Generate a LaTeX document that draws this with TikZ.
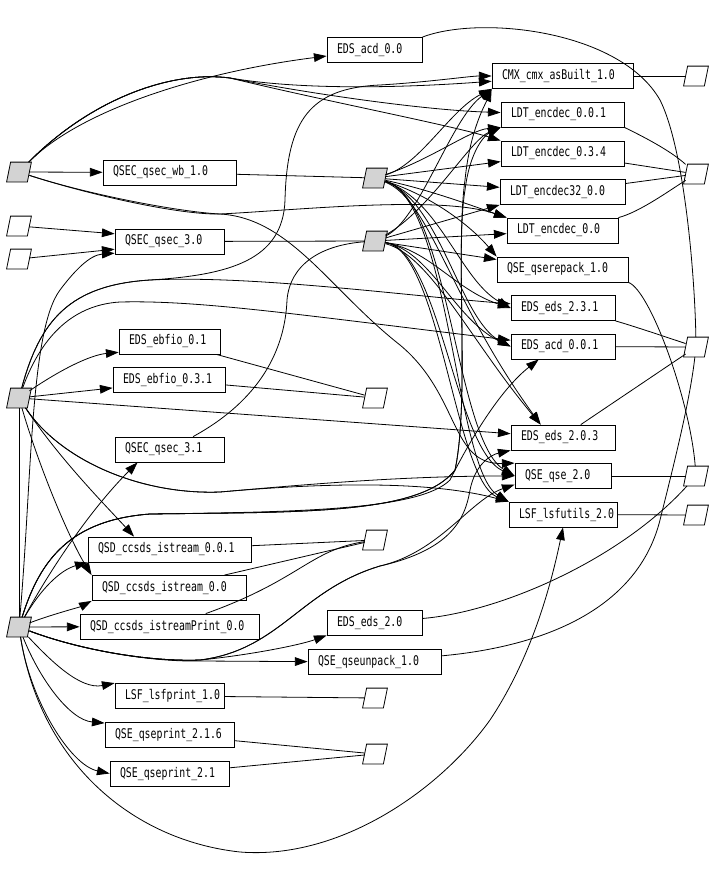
\documentclass[tikz,border=0pt]{standalone}
\usepackage{fontspec}
\usepackage{tikz}
\usetikzlibrary{arrows.meta}
\newfontfamily\pkgfont[FakeStretch=0.74]{DejaVu Sans Mono}
\definecolor{srcgray}{RGB}{211,211,211}
\tikzset{
  verbox/.style={draw, rectangle, minimum height=18.75pt, inner ysep=0pt, inner xsep=7.5pt, align=left,
    minimum width=#1, text width=#1-15pt, font=\pkgfont\fontsize{10}{11}\selectfont},
  pkgnode/.style={rectangle, minimum width=15pt, minimum height=14.25pt, inner sep=0pt,
    append after command={\pgfextra{\draw[fill=#1] ([xshift=-1.5pt]\tikzlastnode.south west) -- ([xshift=-1.5pt]\tikzlastnode.south east) -- ([xshift=1.5pt]\tikzlastnode.north east) -- ([xshift=1.5pt]\tikzlastnode.north west) -- cycle;}}},
  pkgnode/.default=white,
  srcnode/.style={pkgnode=srcgray},
  needs/.style={-{Triangle[length=9.5pt,width=6.5pt]}},
}

\begin{document}
\begin{tikzpicture}[x=0.75pt, y=-0.75pt, line width=0.6pt]
	\useasboundingbox (0,0) rectangle (714,889);
	% sources on the left and in the middle
	\node[srcnode] (gA) at (19,172) {};
	\node[pkgnode] (wA) at (19,226) {};
	\node[pkgnode] (wB) at (19,259) {};
	\node[srcnode] (gB) at (19,398) {};
	\node[srcnode] (gC) at (19,627) {};
	\node[srcnode] (gM1) at (375,178) {};
	\node[srcnode] (gM2) at (375,241) {};
	\node[pkgnode] (wM1) at (375,398) {};
	\node[pkgnode] (wM2) at (375,540) {};
	\node[pkgnode] (wM3) at (375,698) {};
	\node[pkgnode] (wM4) at (375,754) {};
	\node[pkgnode] (wR1) at (696,76) {};
	\node[pkgnode] (wR2) at (696,174) {};
	\node[pkgnode] (wR3) at (696,347) {};
	\node[pkgnode] (wR4) at (696,476) {};
	\node[pkgnode] (wR5) at (696,515) {};
	% versions
	\node[verbox=71.25pt] (acdA) at (374.5,50) {EDS\_acd\_0.0};
	\node[verbox=105.75pt] (cmx) at (562.5,76) {CMX\_cmx\_asBuilt\_1.0};
	\node[verbox=92.25pt] (enc001) at (562.5,114.5) {LDT\_encdec\_0.0.1};
	\node[verbox=92.25pt] (enc034) at (562.5,153.5) {LDT\_encdec\_0.3.4};
	\node[verbox=93.75pt] (enc32) at (562.5,192) {LDT\_encdec32\_0.0};
	\node[verbox=83.25pt] (enc00) at (562.5,230.5) {LDT\_encdec\_0.0};
	\node[verbox=98.25pt] (repack) at (562.5,269.5) {QSE\_qserepack\_1.0};
	\node[verbox=78pt] (eds231) at (563,308) {EDS\_eds\_2.3.1};
	\node[verbox=78pt] (acd001) at (563,346.5) {EDS\_acd\_0.0.1};
	\node[verbox=78pt] (eds203) at (563,437.5) {EDS\_eds\_2.0.3};
	\node[verbox=72pt] (qse20) at (563,476) {QSE\_qse\_2.0};
	\node[verbox=81pt] (lsfu20) at (563,514.5) {LSF\_lsfutils\_2.0};
	\node[verbox=99.75pt] (wb10) at (169.5,172.5) {QSEC\_qsec\_wb\_1.0};
	\node[verbox=81.75pt] (qsec30) at (169.5,241.5) {QSEC\_qsec\_3.0};
	\node[verbox=75.75pt] (ebf01) at (169.5,341.5) {EDS\_ebfio\_0.1};
	\node[verbox=84pt] (ebf031) at (169,380) {EDS\_ebfio\_0.3.1};
	\node[verbox=81.75pt] (qsec31) at (169.5,449.5) {QSEC\_qsec\_3.1};
	\node[verbox=122.25pt] (ist001) at (169.5,549.5) {QSD\_ccsds\_istream\_0.0.1};
	\node[verbox=115.5pt] (ist00) at (169,588) {QSD\_ccsds\_istream\_0.0};
	\node[verbox=134.25pt] (istp00) at (169.5,626.5) {QSD\_ccsds\_istreamPrint\_0.0};
	\node[verbox=71.25pt] (eds20) at (374.5,622.5) {EDS\_eds\_2.0};
	\node[verbox=99.75pt] (unpack) at (374.5,662) {QSE\_qseunpack\_1.0};
	\node[verbox=81.75pt] (lsfp10) at (169.5,696) {LSF\_lsfprint\_1.0};
	\node[verbox=96.75pt] (qsep216) at (169.5,734.5) {QSE\_qseprint\_2.1.6};
	\node[verbox=89.25pt] (qsep21) at (169.5,773.5) {QSE\_qseprint\_2.1};

	% versions to their packages
	\draw (wb10) -- (gM1);
	\draw (qsec30) -- (gM2);
	\draw (qsec31) .. controls (260,400) and (285,350) .. (287,300) .. controls (290,265) and (320,245) .. (gM2);
	\draw (ebf01) -- (wM1);
	\draw (ebf031) -- (wM1);
	\draw (ist001) -- (wM2);
	\draw (ist00) -- (wM2);
	\draw (istp00) .. controls (300,580) and (310,550) .. (wM2);
	\draw (lsfp10) -- (wM3);
	\draw (qsep216) -- (wM4);
	\draw (qsep21) -- (wM4);
	\draw (cmx) -- (wR1);
	\draw (enc001.south east) .. controls (640,135) and (670,150) .. (wR2);
	\draw (enc034) -- (wR2);
	\draw (enc32) -- (wR2);
	\draw (enc00.north east) .. controls (640,212) and (670,190) .. (wR2);
	\draw (repack.south east) .. controls (650,290) and (690,400) .. (wR4);
	\draw (eds231.south east) .. controls (630,325) and (660,335) .. (wR3);
	\draw (acd001) -- (wR3);
	\draw (eds203.36) -- (wR3);
	\draw (qse20) -- (wR4);
	\draw (lsfu20) -- (wR5);
	\draw (acdA.north east) .. controls (480,15) and (620,30) .. (660,100) .. controls (685,150) and (695,280) .. (wR3);
	\draw (eds20) .. controls (500,612) and (620,560) .. (wR4);
	\draw (unpack) .. controls (560,645) and (640,600) .. (660,520) .. controls (675,460) and (690,400) .. (wR3);

	% first source
	\draw[needs] (gA) .. controls (80,110) and (200,72) .. (acdA);
	\draw[needs] (gA) .. controls (90,100) and (170,70) .. (230,78) .. controls (300,90) and (400,88) .. (cmx);
	\draw[needs] (gA) .. controls (90,100) and (170,70) .. (230,78) .. controls (300,92) and (420,110) .. (enc001);
	\draw[needs] (gA) .. controls (90,100) and (170,70) .. (230,78) .. controls (320,100) and (450,125) .. (enc034.north west);
	\draw[needs] (gA) -- (wb10);
	\draw[needs] (gA) .. controls (90,195) and (180,215) .. (220,214) .. controls (300,210) and (440,195) .. (enc00.north west);
	\draw[needs] (gA) .. controls (90,195) and (180,212) .. (220,214) .. controls (290,218) and (330,290) .. (400,345) .. controls (460,395) and (450,465) .. (qse20.north west);
	\draw[needs] (wA) -- (qsec30.172);
	\draw[needs] (wB) -- (qsec30.188);

	% second source
	\draw[needs] (gB) .. controls (60,370) and (90,355) .. (ebf01.192);
	\draw[needs] (gB) -- (ebf031.188);
	\draw[needs] (gB) -- (eds203);
	\draw[needs] (gB) .. controls (40,320) and (70,285) .. (150,280) .. controls (230,275) and (283,260) .. (285,200) .. controls (287,120) and (310,88) .. (380,85) .. controls (430,82) and (470,76) .. (cmx);
	\draw[needs] (gB) .. controls (40,320) and (70,285) .. (150,280) .. controls (250,275) and (400,295) .. (eds231);
	\draw[needs] (gB) .. controls (40,340) and (70,305) .. (120,302) .. controls (200,300) and (300,315) .. (acd001);
	\draw[needs] (gB) .. controls (60,460) and (140,495) .. (220,492) .. controls (300,485) and (400,476) .. (qse20);
	\draw[needs] (gB) .. controls (60,460) and (140,495) .. (220,492) .. controls (300,485) and (420,478) .. (lsfu20.north west);
	\draw[needs] (gB) .. controls (60,460) and (110,510) .. (ist001.160);
	\draw[needs] (gB) .. controls (40,470) and (70,540) .. (ist00.north west);
	\draw (gC) -- (gB);

	% third source
	\draw[needs] (gC) .. controls (32,480) and (30,330) .. (60,290) .. controls (75,270) and (90,255) .. (qsec30.192);
	\draw[needs] (gC) .. controls (50,570) and (90,510) .. (qsec31.202);
	\draw[needs] (gC) .. controls (40,590) and (60,570) .. (ist001.south west);
	\draw[needs] (gC) .. controls (50,615) and (80,607) .. (ist00.south west);
	\draw[needs] (gC) -- (istp00);
	\draw[needs] (gC) .. controls (80,650) and (150,662) .. (200,660) .. controls (250,655) and (300,645) .. (eds20.south west);
	\draw[needs] (gC) .. controls (80,650) and (150,662) .. (200,661) -- (unpack);
	\draw[needs] (gC) .. controls (50,660) and (80,690) .. (lsfp10.north west);
	\draw[needs] (gC) .. controls (40,680) and (70,720) .. (qsep216.170);
	\draw[needs] (gC) .. controls (30,700) and (70,765) .. (qsep21.west);
	\draw[needs] (gC) .. controls (40,760) and (130,840) .. (240,852) .. controls (340,860) and (440,790) .. (490,720) .. controls (530,660) and (550,590) .. (lsfu20.south);
	\draw[needs] (gC) .. controls (80,650) and (150,662) .. (200,660) .. controls (280,650) and (300,590) .. (380,566) .. controls (450,550) and (465,520) .. (470,490) .. controls (475,465) and (490,455) .. (eds203.south west);
	\draw[needs] (gC) .. controls (80,650) and (150,662) .. (200,660) .. controls (280,650) and (300,590) .. (380,566) .. controls (440,552) and (470,500) .. (qse20.190);
	\draw[needs] (gC) .. controls (40,560) and (70,520) .. (150,514) .. controls (300,512) and (420,510) .. (450,480) .. controls (470,440) and (500,390) .. (acd001.208);
	\draw[needs] (gC) .. controls (40,560) and (70,520) .. (150,514) .. controls (300,512) and (420,515) .. (455,470) .. controls (470,400) and (455,250) .. (465,180) .. controls (470,130) and (485,105) .. (cmx.south west);
	\draw[needs] (gC) .. controls (40,560) and (70,520) .. (150,514) .. controls (300,512) and (420,515) .. (455,470) .. controls (470,400) and (455,250) .. (465,190) .. controls (470,150) and (485,135) .. (enc001.south west);

	% middle sources
	\draw[needs] (gM1) .. controls (420,165) and (450,110) .. (cmx.south west);
	\draw[needs] (gM1) .. controls (430,160) and (470,130) .. (enc001.south west);
	\draw[needs] (gM1) -- (enc034);
	\draw[needs] (gM1) -- (enc32);
	\draw[needs] (gM1) .. controls (430,190) and (470,205) .. (enc00.north west);
	\draw[needs] (gM1) .. controls (430,195) and (470,225) .. (repack.north west);
	\draw[needs] (gM1) .. controls (440,200) and (460,280) .. (eds231.west);
	\draw[needs] (gM1) .. controls (440,200) and (460,320) .. (acd001.west);
	\draw[needs] (gM1) .. controls (430,200) and (450,300) .. (eds203.150);
	\draw[needs] (gM1) .. controls (450,200) and (455,440) .. (qse20.west);
	\draw[needs] (gM1) .. controls (450,200) and (455,470) .. (lsfu20.north west);
	\draw[needs] (gM2) .. controls (420,220) and (450,120) .. (cmx.south west);
	\draw[needs] (gM2) .. controls (430,210) and (470,140) .. (enc001.south west);
	\draw[needs] (gM2) -- (enc32.south west);
	\draw[needs] (gM2) -- (enc00);
	\draw[needs] (gM2) -- (repack);
	\draw[needs] (gM2) .. controls (430,250) and (455,290) .. (eds231.west);
	\draw[needs] (gM2) .. controls (430,250) and (455,320) .. (acd001.west);
	\draw[needs] (gM2) .. controls (430,255) and (470,340) .. (eds203.150);
	\draw[needs] (gM2) .. controls (440,250) and (455,450) .. (qse20.west);
	\draw[needs] (gM2) .. controls (440,250) and (455,480) .. (lsfu20.north west);
\end{tikzpicture}
\end{document}
